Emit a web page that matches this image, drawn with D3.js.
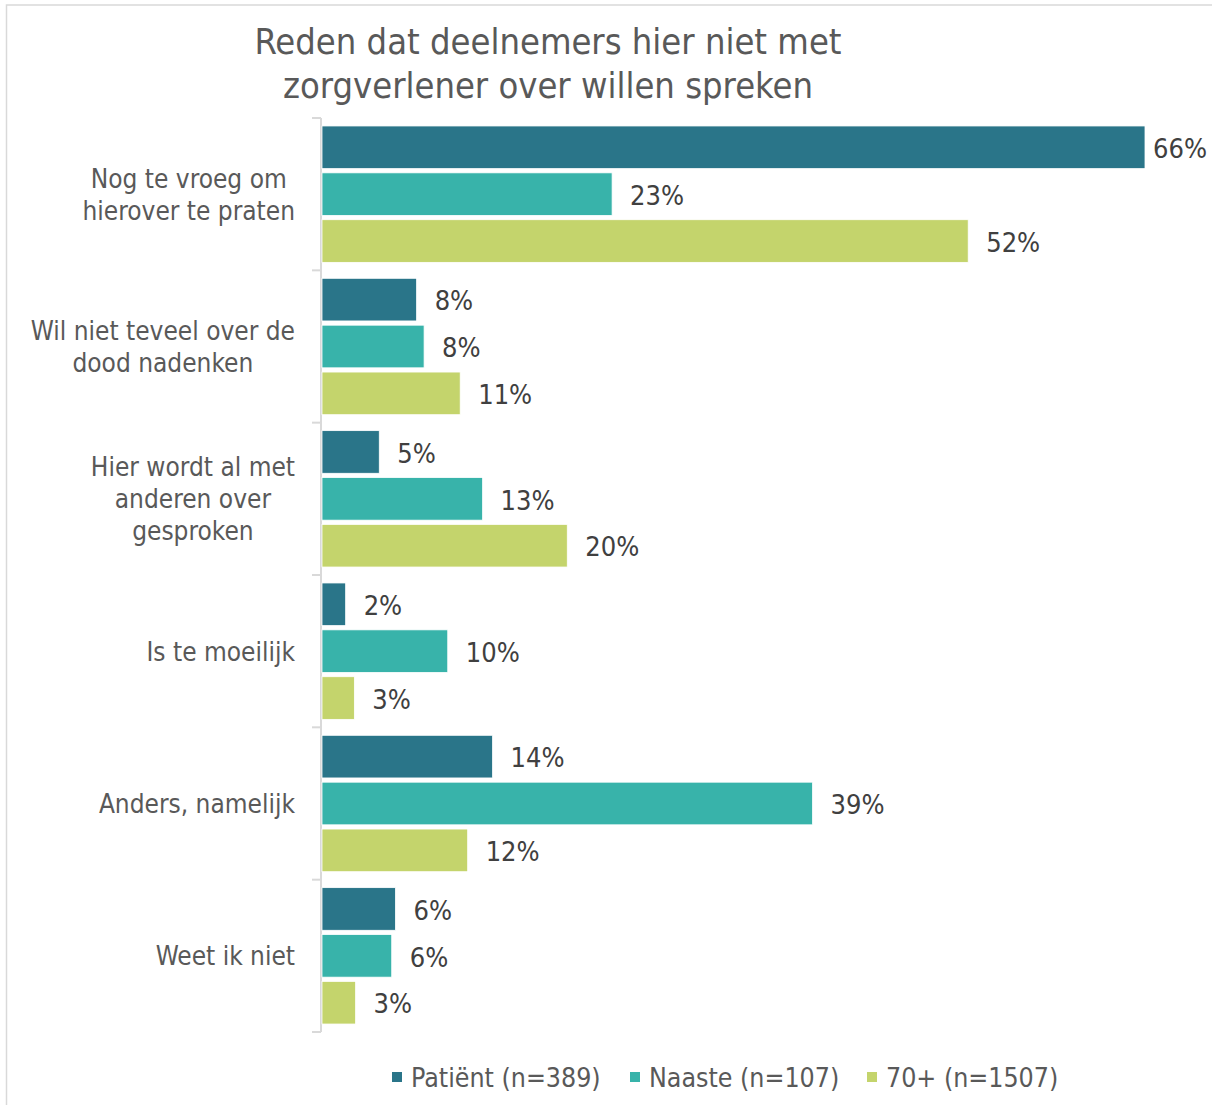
<!DOCTYPE html>
<html>
<head>
<meta charset="utf-8">
<script src="https://cdn.jsdelivr.net/npm/d3@7"></script>
<style>
  html, body { margin: 0; padding: 0; background: #fff; }
  svg { display: block; }
  text { font-family: "DejaVu Sans Condensed", "DejaVu Sans", sans-serif; }
</style>
</head>
<body>
<svg id="chart" width="1212" height="1105"></svg>
<script>
// ---- data ----
const titleLines = ["Reden dat deelnemers hier niet met", "zorgverlener over willen spreken"];
const categories = [
  ["Nog te vroeg om", "hierover te praten"],
  ["Wil niet teveel over de", "dood nadenken"],
  ["Hier wordt al met", "anderen over", "gesproken"],
  ["Is te moeilijk"],
  ["Anders, namelijk"],
  ["Weet ik niet"]
];
const seriesNames = ["Patiënt (n=389)", "Naaste (n=107)", "70+ (n=1507)"];
const patient = [66.1, 7.6, 4.6, 1.9, 13.7, 5.9];
const naaste  = [23.3, 8.2, 12.9, 10.1, 39.4, 5.6];
const plus70  = [51.9, 11.1, 19.7, 2.6, 11.7, 2.7];
const seriesColors = ["#2a7589", "#38b3aa", "#c4d46c"];

const seriesValues = [patient, naaste, plus70];
const rows = categories.map((c, i) => ({ idx: i, lines: c, values: seriesValues.map(s => s[i]) }));

const svg = d3.select("#chart");

// outer border
svg.append("rect").attr("x", 6.5).attr("y", 5).attr("width", 1220).attr("height", 1120)
  .attr("fill", "none").attr("stroke", "#d9d9d9").attr("stroke-width", 1.5);

// title
svg.append("g").selectAll("text").data(titleLines).join("text")
  .attr("x", 548).attr("y", (d, i) => 54 + i * 44)
  .attr("text-anchor", "middle").attr("font-size", 36).attr("fill", "#595959")
  .text(d => d);

// scales
const x = d3.scaleLinear().domain([0, 66.1]).range([322, 1145]);
const y0 = d3.scaleBand().domain(d3.range(categories.length)).range([118, 1032]).paddingInner(0).paddingOuter(0);
const y1 = d3.scaleBand().domain(d3.range(3)).range([0, y0.bandwidth()]).paddingInner(0.09).paddingOuter(0.17);

// axis line with group ticks
const axisG = svg.append("g").attr("stroke", "#d9d9d9").attr("stroke-width", 2).attr("fill", "none");
axisG.append("line").attr("x1", 321).attr("x2", 321).attr("y1", y0.range()[0]).attr("y2", y0.range()[1]);
const tickPos = d3.range(categories.length + 1).map(i => y0.range()[0] + i * y0.step());
axisG.selectAll("line.tick").data(tickPos).join("line").attr("class", "tick")
  .attr("x1", 312).attr("x2", 321).attr("y1", d => d).attr("y2", d => d);

// groups
const groups = svg.append("g").selectAll("g").data(rows).join("g")
  .attr("transform", d => `translate(0,${y0(d.idx)})`);

groups.selectAll("rect").data(d => d.values.map((v, s) => ({ v, s }))).join("rect")
  .attr("x", x(0)).attr("y", d => y1(d.s))
  .attr("width", d => x(d.v) - x(0)).attr("height", y1.bandwidth())
  .attr("fill", d => seriesColors[d.s])
  .attr("stroke", "#ffffff").attr("stroke-width", 0.8);

groups.selectAll("text.val").data(d => d.values.map((v, s) => ({ v, s }))).join("text")
  .attr("class", "val")
  .attr("y", d => y1(d.s) + y1.bandwidth() / 2)
  .attr("dy", "0.4em").attr("font-size", 27).attr("fill", "#404040")
  .text(d => Math.round(d.v) + "%")
  .each(function (d) {
    const w = this.getComputedTextLength();
    const xs = Math.min(x(d.v) + 18, 1207 - w);
    d3.select(this).attr("x", xs);
  });

// category labels
groups.each(function (d) {
  const g = d3.select(this);
  const n = d.lines.length;
  const lh = 32;
  const mid = y0.bandwidth() / 2;
  const t = g.selectAll("text.cat").data(d.lines).join("text").attr("class", "cat")
    .attr("font-size", 26).attr("fill", "#595959").attr("text-anchor", "middle")
    .attr("y", (l, i) => mid + (i - (n - 1) / 2) * lh).attr("dy", "0.36em")
    .text(l => l);
  let maxW = 0;
  t.each(function () { maxW = Math.max(maxW, this.getComputedTextLength()); });
  t.attr("x", 295 - maxW / 2);
});

// legend
const legendX = [392, 630, 867];
const leg = svg.append("g").selectAll("g").data(seriesNames).join("g")
  .attr("transform", (d, i) => `translate(${legendX[i]},1077)`);
leg.append("rect").attr("x", 0).attr("y", -5).attr("width", 10).attr("height", 10)
  .attr("fill", (d, i) => seriesColors[i]);
leg.append("text").attr("x", 19).attr("y", 0).attr("dy", "0.38em")
  .attr("font-size", 26.5).attr("fill", "#595959").text(d => d);
</script>
</body>
</html>
